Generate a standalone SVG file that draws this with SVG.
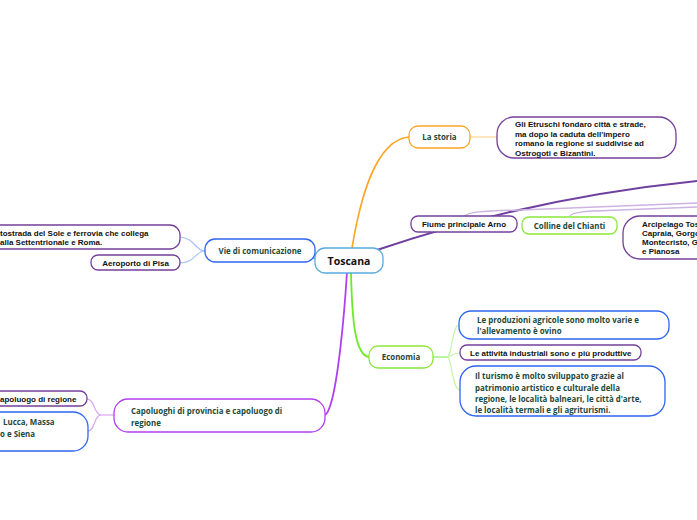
<svg xmlns="http://www.w3.org/2000/svg" width="697" height="520" viewBox="0 0 697 520">
<style>
.n{fill:#fff;stroke-width:1.3}
.pu{stroke:#74409a}
.bl{stroke:#2f64f0}
.gr{stroke:#8be83c}
.vi{stroke:#b13ff0}
.or{stroke:#ffa526}
.tb{font-family:"Liberation Sans",Arial,sans-serif;font-weight:bold;font-size:8px;fill:#111}
.tg{font-family:"Open Sans","Noto Sans",sans-serif;font-weight:bold;font-size:7.9px;fill:#1d4a3b}
.c{fill:none}
</style>
<rect width="697" height="520" fill="#fff"/>
<g id="connectors" class="c">
<path d="M352 248 C360 200 375 140 409 137" stroke="#ffa526" stroke-width="1.6"/>
<path d="M470 137 L497 137" stroke="#ffd9a0" stroke-width="1.3"/>
<path d="M377 250 C450 225 560 195 697 181" stroke="#7040a0" stroke-width="2"/>
<path d="M465 216 C468 212 480 211 520 210 L697 203" stroke="#cdb3e0" stroke-width="1.3"/>
<path d="M570 216 C572 212 585 211 620 210 L697 207" stroke="#cdb3e0" stroke-width="1.3"/>
<path d="M315 259 L305 252" stroke="#4a8fe8" stroke-width="1.5"/>
<path d="M205 251 C195 251 195 238 180 237" stroke="#a9c2f5" stroke-width="1.2"/>
<path d="M205 251 C195 251 195 263 180 263" stroke="#a9c2f5" stroke-width="1.2"/>
<path d="M351 272 C352 320 355 355 369 357" stroke="#6fe82a" stroke-width="1.8"/>
<path d="M433 357 L447 357" stroke="#9ff07a" stroke-width="1.5"/>
<path d="M447 357 C452 357 452 325 459 325" stroke="#c5f5a8" stroke-width="1.2"/>
<path d="M447 357 C452 357 452 353 460 353" stroke="#c5f5a8" stroke-width="1.2"/>
<path d="M447 357 C452 357 452 390 460 390" stroke="#c5f5a8" stroke-width="1.2"/>
<path d="M347 272 C344 320 338 380 331 403 C329 410 327 414 325 415" stroke="#b13ff0" stroke-width="1.8"/>
<path d="M114 415 L101 415" stroke="#d9a6f5" stroke-width="1.2"/>
<path d="M101 415 C94 415 95 399 87 399" stroke="#d9a6f5" stroke-width="1.2"/>
<path d="M101 415 C94 415 95 431 88 431" stroke="#d9a6f5" stroke-width="1.2"/>
</g>
<g id="toscana">
<rect x="315" y="248" width="68" height="25" rx="10" class="n" stroke="#5aaae0"/>
<text x="349" y="265" text-anchor="middle" font-family="'Open Sans','Noto Sans',sans-serif" font-weight="bold" font-size="10.5" fill="#111">Toscana</text>
</g>
<g id="la-storia">
<rect x="409" y="126" width="61" height="22" rx="9" class="n or"/>
<text x="439.5" y="140" text-anchor="middle" class="tg">La storia</text>
</g>
<g id="etruschi">
<rect x="497" y="117" width="179" height="41" rx="17" class="n pu"/>
<text class="tb"><tspan x="515" y="127">Gli Etruschi fondaro città e strade,</tspan><tspan x="515" y="136.5">ma dopo la caduta dell'impero</tspan><tspan x="515" y="146">romano la regione si suddivise ad</tspan><tspan x="515" y="155.5">Ostrogoti e Bizantini.</tspan></text>
</g>
<g id="arno">
<rect x="411" y="216" width="106" height="16" rx="7" class="n pu"/>
<text x="464" y="227" text-anchor="middle" class="tb">Fiume principale Arno</text>
</g>
<g id="chianti">
<rect x="522" y="217" width="95" height="17" rx="7" class="n gr"/>
<text x="569.5" y="229" text-anchor="middle" class="tg">Colline del Chianti</text>
</g>
<g id="arcipelago">
<rect x="623" y="216" width="100" height="43" rx="17" class="n pu"/>
<text class="tb" font-size="7.2"><tspan x="642" y="227">Arcipelago Tos</tspan><tspan x="642" y="236">Capraia, Gorgo</tspan><tspan x="642" y="245">Montecristo, G</tspan><tspan x="642" y="254">e Pianosa</tspan></text>
</g>
<g id="vie">
<rect x="205" y="239" width="110" height="23" rx="10" class="n bl"/>
<text x="260" y="254" text-anchor="middle" class="tg">Vie di comunicazione</text>
</g>
<g id="autostrada">
<rect x="-30" y="225" width="210" height="24" rx="10" class="n pu"/>
<text class="tb"><tspan x="0" y="236">tostrada del Sole e ferrovia che collega</tspan><tspan x="0" y="245">alla Settentrionale e Roma.</tspan></text>
</g>
<g id="aeroporto">
<rect x="91" y="255" width="89" height="15" rx="7" class="n pu"/>
<text x="135.5" y="265.5" text-anchor="middle" class="tb">Aeroporto di Pisa</text>
</g>
<g id="economia">
<rect x="369" y="346" width="64" height="22" rx="9" class="n gr"/>
<text x="401" y="360" text-anchor="middle" class="tg">Economia</text>
</g>
<g id="produzioni">
<rect x="459" y="311" width="210" height="28" rx="12" class="n bl"/>
<text class="tg"><tspan x="477" y="323">Le produzioni agricole sono molto varie e</tspan><tspan x="477" y="334">l'allevamento è ovino</tspan></text>
</g>
<g id="industriali">
<rect x="460" y="345" width="181" height="15" rx="7" class="n pu"/>
<text x="470" y="355.5" class="tb">Le attività industriali sono e più produttive</text>
</g>
<g id="turismo">
<rect x="460" y="366" width="205" height="50" rx="16" class="n bl"/>
<text class="tg"><tspan x="475" y="379">Il turismo è molto sviluppato grazie al</tspan><tspan x="475" y="390.5">patrimonio artistico e culturale della</tspan><tspan x="475" y="402">regione, le località balneari, le città d'arte,</tspan><tspan x="475" y="413">le località termali e gli agriturismi.</tspan></text>
</g>
<g id="capoluoghi">
<rect x="114" y="399" width="211" height="33" rx="14" class="n vi"/>
<text class="tg"><tspan x="131" y="414">Capoluoghi di provincia e capoluogo di</tspan><tspan x="131" y="426">regione</tspan></text>
</g>
<g id="firenze">
<rect x="-30" y="391" width="117" height="15" rx="7" class="n pu"/>
<text x="0" y="401.5" class="tb">apoluogo di regione</text>
</g>
<g id="province">
<rect x="-30" y="412" width="118" height="39" rx="15" class="n bl"/>
<text class="tg"><tspan x="3" y="425">Lucca, Massa</tspan><tspan x="0" y="437">o e Siena</tspan></text>
</g>
</svg>
